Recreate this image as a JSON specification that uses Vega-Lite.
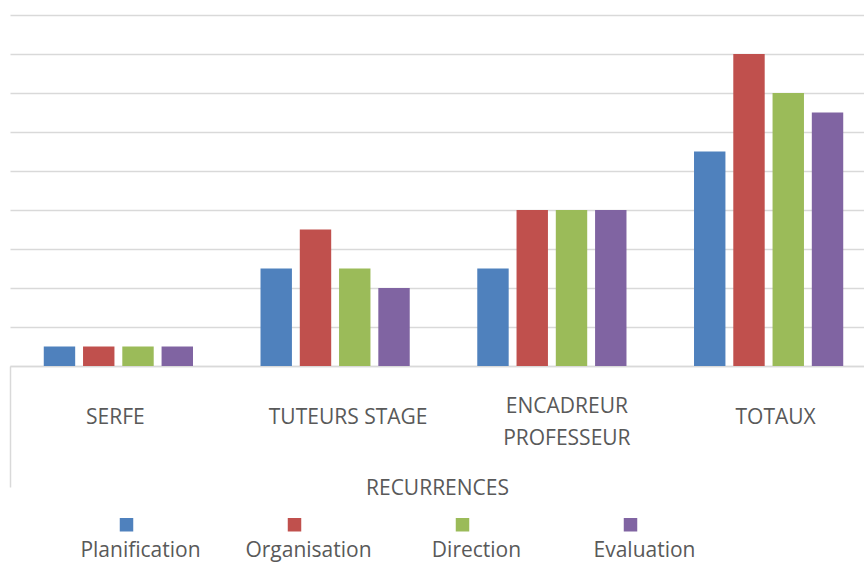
{
  "$schema": "https://vega.github.io/schema/vega-lite/v6.json",
  "autosize": {"type": "none"},
  "width": 854,
  "height": 351,
  "padding": {"left": 10, "top": 15, "right": 0, "bottom": 197},
  "background": "white",
  "config": {"view": {"stroke": null}, "font": "Open Sans"},
  "data": {
    "values": [
      {"categorie": "SERFE", "critere": "Planification", "valeur": 1},
      {"categorie": "SERFE", "critere": "Organisation", "valeur": 1},
      {"categorie": "SERFE", "critere": "Direction", "valeur": 1},
      {"categorie": "SERFE", "critere": "Evaluation", "valeur": 1},
      {"categorie": "TUTEURS STAGE", "critere": "Planification", "valeur": 5},
      {"categorie": "TUTEURS STAGE", "critere": "Organisation", "valeur": 7},
      {"categorie": "TUTEURS STAGE", "critere": "Direction", "valeur": 5},
      {"categorie": "TUTEURS STAGE", "critere": "Evaluation", "valeur": 4},
      {"categorie": "ENCADREUR PROFESSEUR", "critere": "Planification", "valeur": 5},
      {"categorie": "ENCADREUR PROFESSEUR", "critere": "Organisation", "valeur": 8},
      {"categorie": "ENCADREUR PROFESSEUR", "critere": "Direction", "valeur": 8},
      {"categorie": "ENCADREUR PROFESSEUR", "critere": "Evaluation", "valeur": 8},
      {"categorie": "TOTAUX", "critere": "Planification", "valeur": 11},
      {"categorie": "TOTAUX", "critere": "Organisation", "valeur": 16},
      {"categorie": "TOTAUX", "critere": "Direction", "valeur": 14},
      {"categorie": "TOTAUX", "critere": "Evaluation", "valeur": 13}
    ]
  },
  "mark": {"type": "bar"},
  "encoding": {
    "x": {
      "field": "categorie",
      "type": "nominal",
      "sort": ["SERFE", "TUTEURS STAGE", "ENCADREUR PROFESSEUR", "TOTAUX"],
      "scale": {"range": [0, 867], "paddingInner": 0, "paddingOuter": 0},
      "axis": {
        "title": "RECURRENCES",
        "titleFont": "Open Sans",
        "titleFontSize": 21,
        "titleFontWeight": "normal",
        "titleColor": "#595959",
        "titleX": 427,
        "titleAlign": "center",
        "titleY": 122,
        "titleBaseline": "middle",
        "labelAngle": 0,
        "labelFont": "Open Sans",
        "labelFontSize": 21,
        "labelColor": "#595959",
        "labelBaseline": "middle",
        "labelLineHeight": 32.5,
        "labelPadding": {"condition": {"test": "datum.value === 'ENCADREUR PROFESSEUR'", "value": -81}, "value": -70},
        "labelOffset": {"condition": [
          {"test": "datum.value === 'SERFE'", "value": -3},
          {"test": "datum.value === 'TUTEURS STAGE'", "value": 13},
          {"test": "datum.value === 'ENCADREUR PROFESSEUR'", "value": 15}
        ], "value": 7},
        "labelLimit": 0,
        "labelExpr": "datum.label === 'ENCADREUR PROFESSEUR' ? ['ENCADREUR', 'PROFESSEUR'] : datum.label",
        "domainColor": "#d9d9d9",
        "domainWidth": 1.5,
        "ticks": true,
        "bandPosition": 0,
        "tickSize": 121,
        "tickWidth": 1.5,
        "tickColor": {"condition": {"test": "datum.value === 'SERFE'", "value": "#d9d9d9"}, "value": "rgba(0,0,0,0)"}
      }
    },
    "xOffset": {
      "field": "critere",
      "type": "nominal",
      "sort": ["Planification", "Organisation", "Direction", "Evaluation"],
      "scale": {"paddingInner": 0.2, "paddingOuter": 0.86}
    },
    "y": {
      "field": "valeur",
      "type": "quantitative",
      "scale": {"domain": [0, 18]},
      "axis": {
        "title": null,
        "labels": false,
        "ticks": false,
        "domain": false,
        "grid": true,
        "values": [0, 2, 4, 6, 8, 10, 12, 14, 16, 18],
        "gridColor": "#d9d9d9",
        "gridWidth": 1.5
      }
    },
    "color": {
      "field": "critere",
      "type": "nominal",
      "sort": ["Planification", "Organisation", "Direction", "Evaluation"],
      "scale": {
        "domain": ["Planification", "Organisation", "Direction", "Evaluation"],
        "range": ["#4F81BD", "#C0504D", "#9BBB59", "#8064A2"]
      },
      "legend": {
        "title": null,
        "orient": "none",
        "legendX": 106,
        "legendY": 499,
        "direction": "horizontal",
        "symbolType": "square",
        "symbolSize": 182,
        "symbolStrokeWidth": 0,
        "labelFont": "Open Sans",
        "labelFontSize": 21,
        "labelColor": "#595959",
        "labelAlign": "center",
        "labelBaseline": "middle",
        "labelOffset": 3.5,
        "labelLimit": 0,
        "columnPadding": 41,
        "gridAlign": "all",
        "encode": {"labels": {"update": {"dy": {"value": 26}}}}
      }
    }
  }
}
